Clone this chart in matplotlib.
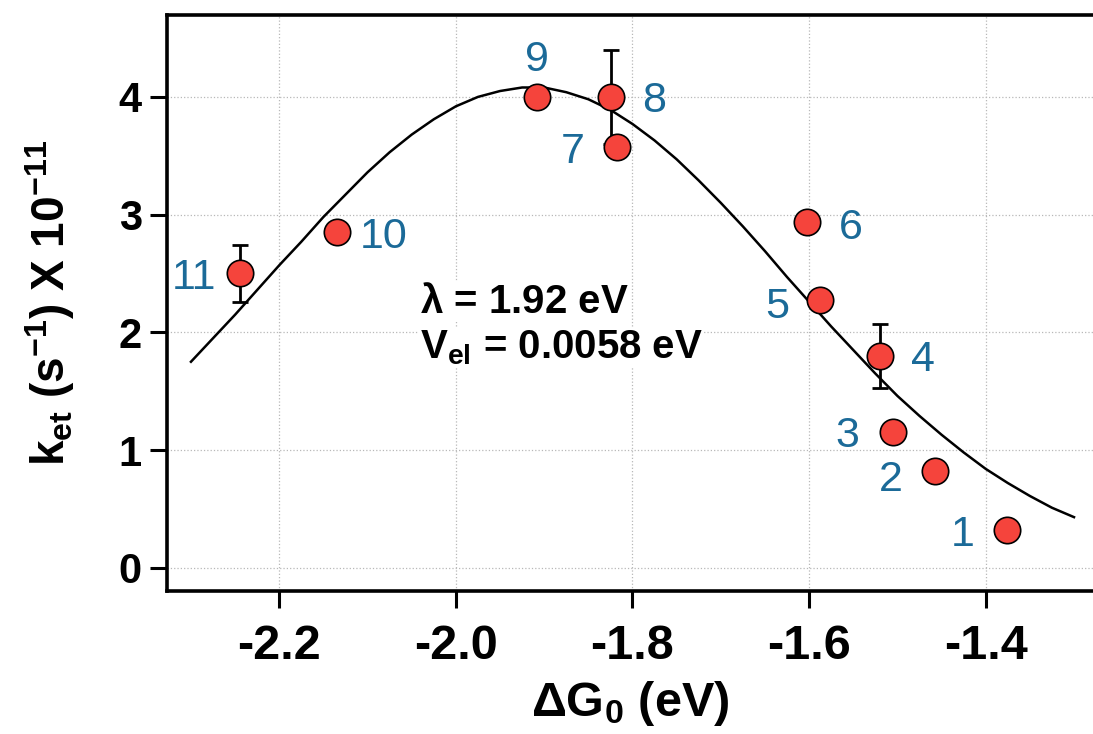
import numpy as np
import matplotlib
matplotlib.use('Agg')
import matplotlib.pyplot as plt

# ----------------
# data (read off)
# ----------------
dG = [-1.3755, -1.457, -1.5053, -1.5197, -1.5877, -1.6027, -1.817, -1.8247, -1.9078, -2.135, -2.2445]
ket = [0.32, 0.82, 1.155, 1.80, 2.274, 2.94, 3.577, 4.00, 4.00, 2.85, 2.50]
ket_err = [0, 0, 0, 0.27, 0, 0, 0, 0.40, 0, 0, 0.245]
labels = ['1', '2', '3', '4', '5', '6', '7', '8', '9', '10', '11']

# marcus fit curve, every 0.025 eV
fit_x = [-2.300, -2.275, -2.250, -2.225, -2.200, -2.175, -2.150, -2.125, -2.100, -2.075,
         -2.050, -2.025, -2.000, -1.975, -1.950, -1.925, -1.900, -1.875, -1.850, -1.825,
         -1.800, -1.775, -1.750, -1.725, -1.700, -1.675, -1.650, -1.625, -1.600, -1.575,
         -1.550, -1.525, -1.500, -1.475, -1.450, -1.425, -1.400, -1.375, -1.350, -1.325,
         -1.300]
fit_y = [1.75, 1.95, 2.15, 2.36, 2.57, 2.77, 2.98, 3.17, 3.36, 3.53,
         3.68, 3.81, 3.92, 4.00, 4.05, 4.08, 4.08, 4.04, 3.98, 3.89,
         3.77, 3.63, 3.47, 3.29, 3.10, 2.90, 2.69, 2.47, 2.26, 2.05,
         1.85, 1.65, 1.46, 1.29, 1.13, 0.98, 0.84, 0.72, 0.61, 0.51,
         0.43]

# label offsets in pixels (dx, dy)
offsets = [(-45, 0), (-45, -4), (-45, 0), (43, 0), (-43, -2), (44, -2),
           (-45, -1), (43, 0), (0, 41), (47, 0), (-46, 0)]

plt.rcParams['font.family'] = ['Liberation Sans', 'DejaVu Sans']
plt.rcParams['mathtext.fontset'] = 'custom'
plt.rcParams['mathtext.rm'] = 'Liberation Sans'
plt.rcParams['mathtext.bf'] = 'Liberation Sans:bold'
plt.rcParams['mathtext.it'] = 'Liberation Sans:italic'

fig = plt.figure(figsize=(10.93, 7.34), dpi=100)
ax = fig.add_axes([0.1525, 0.1952, 0.8475, 0.7844])

ax.plot(fit_x, fit_y, '-', color='black', lw=1.8, zorder=2)

err = np.array(ket_err)
has = err > 0
ax.errorbar(np.array(dG)[has], np.array(ket)[has], yerr=err[has], fmt='none',
            ecolor='black', elinewidth=2.0, capsize=5.5, capthick=2.0, zorder=3)
ax.plot(dG, ket, 'o', ms=19, mfc='#f5443c', mec='black', mew=1.2, zorder=4)

blue = '#1b6a98'
for x, y, lab, off in zip(dG, ket, labels, offsets):
    ax.annotate(lab, (x, y), xytext=off, textcoords='offset pixels',
                ha='center', va='center_baseline', fontsize=31, color=blue, zorder=5)

ax.text(-2.0407, 2.257, r'$\mathbf{\lambda}$ = 1.92 eV', fontsize=29, fontweight='bold',
        va='center', ha='left', zorder=6,
        bbox=dict(facecolor='white', edgecolor='none', pad=1))
ax.text(-2.0407, 1.87, r'V$_{\mathbf{el}}$ = 0.0058 eV', fontsize=29, fontweight='bold',
        va='center', ha='left', zorder=6,
        bbox=dict(facecolor='white', edgecolor='none', pad=1))

ax.set_xlim(-2.3275, -1.2785)
ax.set_ylim(-0.195, 4.696)
ax.set_xticks([-2.2, -2.0, -1.8, -1.6, -1.4])
ax.set_xticklabels(['-2.2', '-2.0', '-1.8', '-1.6', '-1.4'])
ax.set_yticks([0, 1, 2, 3, 4])

ax.grid(True, ls=':', color='#b8b8b8', lw=0.9, zorder=0)
ax.set_axisbelow(True)

for s in ['left', 'bottom', 'top']:
    ax.spines[s].set_linewidth(2.6)
ax.spines['right'].set_visible(False)
ax.tick_params(axis='both', direction='out', length=12, width=2.2)
ax.tick_params(axis='x', labelsize=35, pad=12)
ax.tick_params(axis='y', labelsize=30, pad=6)
for t in ax.get_xticklabels() + ax.get_yticklabels():
    t.set_fontweight('bold')

ax.set_xlabel(r'$\mathbf{\Delta G_0}$ (eV)', fontsize=35, fontweight='bold', labelpad=7)
ax.set_ylabel(r'$\mathbf{k_{et}\ (s^{-1})\ X\ 10^{-11}}$', fontsize=33, labelpad=30)

fig.savefig('out.png', dpi=100)
